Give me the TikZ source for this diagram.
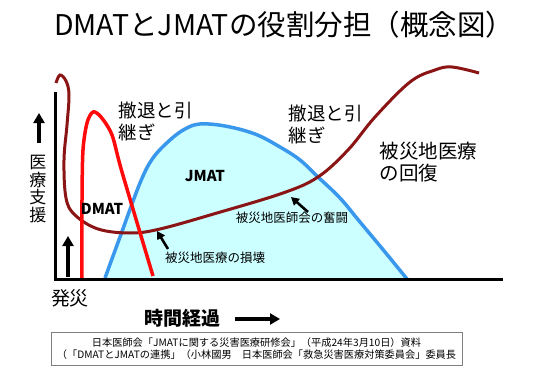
\documentclass[tikz,border=0pt]{standalone}
\usepackage{fontspec}
\setmainfont{Noto Sans CJK JP}
\usetikzlibrary{arrows.meta, positioning}
\definecolor{recovery}{HTML}{8B1414}
\definecolor{jmatblue}{HTML}{3A98EC}
\definecolor{jmatfill}{HTML}{CCFFFF}
\definecolor{dmatred}{HTML}{FF0A0A}

\begin{document}
\begin{tikzpicture}[
  x=1pt, y=-1pt,
  fatarrow/.style={-{Triangle[length=10pt,width=11pt]}, line width=4pt},
  thinarrow/.style={-{Triangle[length=8pt,width=8.5pt]}, line width=2.6pt},
  axisline/.style={line width=3pt},
  curvelbl/.style={anchor=west, align=left, font=\fontsize{18.5}{22}\selectfont},
  teamlbl/.style={font=\fontsize{15}{18}\selectfont\bfseries},
  notelbl/.style={font=\fontsize{12.5}{15}\selectfont},
]
  \useasboundingbox (0,0) rectangle (550,372);

  % title
  \node (title) at (284,25) {\fontsize{28.5}{34}\selectfont DMATとJMATの役割分担（概念図）};

  % JMAT area
  \fill[jmatfill] plot[smooth, tension=0.6] coordinates {(105,278) (120,237) (140,183) (153,158) (170,140) (185,129) (200,124) (225,126) (255,134) (280,147) (300,160) (318,177) (340,198) (360,222) (385,252) (407,279)} -- cycle;
  \draw[jmatblue, line width=3.5pt] plot[smooth, tension=0.6] coordinates {(105,278) (120,237) (140,183) (153,158) (170,140) (185,129) (200,124) (225,126) (255,134) (280,147) (300,160) (318,177) (340,198) (360,222) (385,252) (407,279)};

  % local medical care
  \draw[recovery, line width=3pt] plot[smooth, tension=0.6] coordinates {(56,83) (60,75) (66,81) (69,95) (67,125) (64,160) (66,198) (75,215) (98,229) (130,233) (160,229) (217,213) (283,193) (318,177) (348,150) (375,117) (410,82) (435,70) (452,67) (479,73)};

  % DMAT
  \draw[dmatred, line width=3.5pt] plot[smooth, tension=0.5] coordinates {(82,278) (82,200) (83,150) (87,123) (93,112) (101,117) (112,135) (122,172) (153,276)};

  % axes
  \coordinate (origin) at (55,279);
  \coordinate (ytop) at (55,92);
  \coordinate (xend) at (503,279);
  \draw[axisline] (ytop) -- (origin) -- (xend);

  % labels
  \node[font=\fontsize{17}{17.5}\selectfont, align=center] (supportlbl) at (38,189) {医\\療\\支\\援};
  \coordinate (supporttail) at (39,143);
  \coordinate (supporttip) at (39,113);
  \draw[fatarrow] (supporttail) -- (supporttip);

  \coordinate (onsettail) at (68,277);
  \coordinate (onsettip) at (68,236);
  \draw[fatarrow] (onsettail) -- (onsettip);
  \node[font=\fontsize{19}{22}\selectfont] (onsetlbl) at (70,298) {発災};

  \node[font=\fontsize{19}{22}\selectfont\bfseries] (timelbl) at (182,318) {時間経過};
  \coordinate (timetail) at (235,319);
  \coordinate (timetip) at (280,319);
  \draw[fatarrow] (timetail) -- (timetip);

  \node[teamlbl] (dmatlbl) at (102,209) {DMAT};
  \node[teamlbl] (jmatlbl) at (205,176) {JMAT};

  \node[curvelbl] (withdrawa) at (115,121) {撤退と引\\継ぎ};
  \node[curvelbl] (withdrawb) at (285,124) {撤退と引\\継ぎ};
  \node[curvelbl, font=\fontsize{19.5}{22}\selectfont] (recoverlbl) at (376,162) {被災地医療\\の回復};

  \node[notelbl] (damagelbl) at (215,258) {被災地医療の損壊};
  \coordinate (damagetail) at (168,249);
  \coordinate (damagetip) at (157,231);
  \draw[thinarrow] (damagetail) -- (damagetip);

  \node[notelbl] (effortlbl) at (292,218) {被災地医師会の奮闘};
  \coordinate (efforttail) at (308,212);
  \coordinate (efforttip) at (291,197);
  \draw[thinarrow] (efforttail) -- (efforttip);

  % source
  \node[draw=gray, line width=0.8pt, minimum width=411pt, minimum height=33pt, align=center,
        font=\fontsize{10.2}{12}\selectfont, inner sep=0pt] (source) at (256.5,348.5)
    {日本医師会「JMATに関する災害医療研修会」（平成24年3月10日）資料\\（「DMATとJMATの連携」（小林國男　日本医師会「救急災害医療対策委員会」委員長};
\end{tikzpicture}
\end{document}
